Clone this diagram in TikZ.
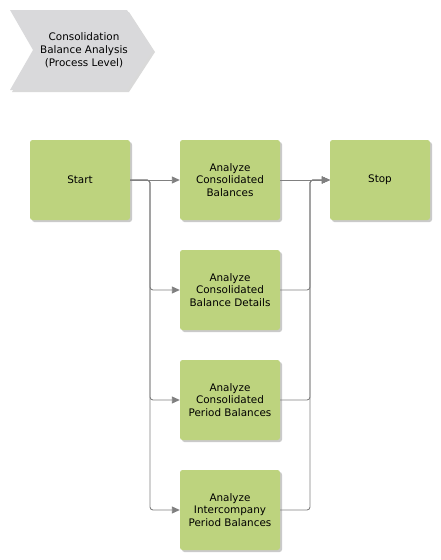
\documentclass[tikz,border=0pt]{standalone}
\usepackage{fontspec}
\setmainfont{DejaVu Sans}
\usetikzlibrary{arrows.meta,shadows}
\definecolor{boxgreen}{HTML}{BDD37E}
\definecolor{chevgray}{HTML}{D9D9DB}
\definecolor{linegray}{HTML}{808080}
\tikzset{
  procbox/.style={draw=none, fill=boxgreen, rounded corners=2.5pt, minimum width=100pt, minimum height=80pt,
    inner sep=0pt, align=center, font=\fontsize{10.4pt}{12.8pt}\selectfont,
    drop shadow={shadow xshift=2pt, shadow yshift=-2pt, fill=black!35, opacity=0.6}},
  conn/.style={draw=linegray, line width=0.9pt, rounded corners=3pt, -{Triangle[length=8pt,width=7pt]}},
}
\begin{document}
\begin{tikzpicture}[x=1pt,y=-1pt]
\useasboundingbox (0,0) rectangle (440,560);
% chevron
\fill[black!15] (12,12) -- (129,12) -- (155,52) -- (129,92) -- (12,92) -- (35,52) -- cycle;
\fill[chevgray] (10,10) -- (127,10) -- (153,50) -- (127,90) -- (10,90) -- (33,50) -- cycle;
\node[align=center, font=\fontsize{10.4pt}{12.8pt}\selectfont] (title) at (84,50) {Consolidation\\Balance Analysis\\(Process Level)};
% boxes
\node[procbox] (start) at (80,180) {Start};
\node[procbox] (a1) at (230,180) {Analyze\\Consolidated\\Balances};
\node[procbox] (a2) at (230,290) {Analyze\\Consolidated\\Balance Details};
\node[procbox] (a3) at (230,400) {Analyze\\Consolidated\\Period Balances};
\node[procbox] (a4) at (230,510) {Analyze\\Intercompany\\Period Balances};
\node[procbox] (stop) at (380,180) {Stop};
\coordinate (lx) at (150,0);
\coordinate (rx) at (310,0);
% connectors
\draw[conn] (start.east) -- (a1.west);
\draw[conn] (start.east) -| (lx |- a2.west) -- (a2.west);
\draw[conn] (start.east) -| (lx |- a3.west) -- (a3.west);
\draw[conn] (start.east) -| (lx |- a4.west) -- (a4.west);
\draw[conn] (a1.east) -- (stop.west);
\draw[conn] (a2.east) -| (rx |- stop.west) -- (stop.west);
\draw[conn] (a3.east) -| (rx |- stop.west) -- (stop.west);
\draw[conn] (a4.east) -| (rx |- stop.west) -- (stop.west);
\end{tikzpicture}
\end{document}
